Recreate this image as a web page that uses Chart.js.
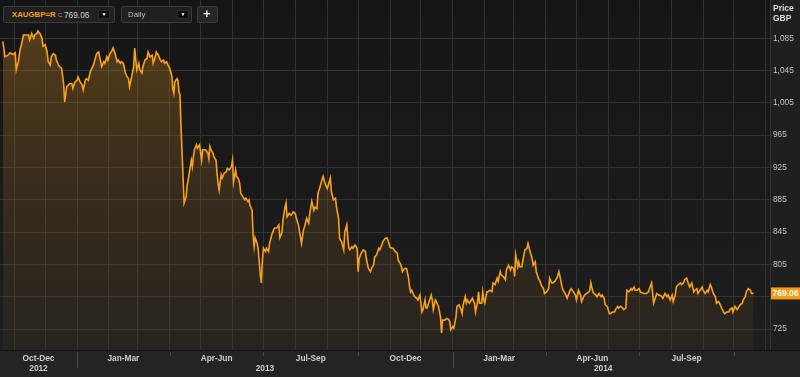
<!DOCTYPE html>
<html><head><meta charset="utf-8">
<script src="https://cdn.jsdelivr.net/npm/chart.js@4.4.1/dist/chart.umd.min.js"></script>
<style>
html,body{margin:0;padding:0;background:#1f1f1f;}
#wrap{position:relative;width:800px;height:377px;overflow:hidden;font-family:"Liberation Sans",Arial,sans-serif;}
#c{position:absolute;left:0;top:0;}
.box{position:absolute;top:6px;height:17px;background:#202020;border:1px solid #3a3a3a;border-radius:2px;box-sizing:border-box;}
.btn{position:absolute;top:3px;width:12px;height:9px;background:#0e0e0e;border:1px solid #2a2a2a;box-sizing:border-box;color:#fff;font-size:5px;line-height:7px;text-align:center;}
.sym{position:absolute;top:3px;font-size:8px;line-height:10px;white-space:nowrap;}
#price{position:absolute;left:773px;top:3px;color:#ddd;font-weight:bold;font-size:8.5px;line-height:10px;}
</style></head>
<body>
<div id="wrap">
<canvas id="c" width="800" height="377"></canvas>
<div class="box" style="left:3px;width:112px;">
  <span class="sym" style="left:8px;color:#f5a01c;font-weight:bold;font-size:7.8px;">XAUGBP=R</span>
  <span class="sym" style="left:54px;color:#999;font-size:6px;">C</span>
  <span class="sym" style="left:60px;color:#cfcfcf;font-size:8.3px;">769.06</span>
  <div class="btn" style="left:94px;">&#9660;</div>
</div>
<div class="box" style="left:121px;width:71px;">
  <span class="sym" style="left:6px;color:#bbb;font-size:7.8px;">Daily</span>
  <div class="btn" style="left:55px;">&#9660;</div>
</div>
<div class="box" style="left:197px;width:21px;background:#262626;">
  <span class="sym" style="left:5px;top:0px;color:#eee;font-weight:bold;font-size:13px;line-height:14px;">+</span>
</div>
<div id="price">Price<br>GBP</div>
</div>
<script>
// ---- data (days since 2013-01-01, gold price in GBP) ----
const days = [-72,-70,-67,-65,-62,-60,-59,-57,-55,-54,-52,-49,-47,-46,-44,-42,-41,-39,-38,-36,-34,-33,-31,-29,-28,-26,-25,-23,-21,-20,-18,-17,-15,-13,-12,-10,-7,-5,-4,-2,0,1,3,5,6,8,9,11,13,16,19,21,22,24,26,27,29,30,32,34,35,37,39,40,42,43,45,47,48,50,51,53,55,56,58,60,61,63,64,66,68,69,71,73,74,76,77,79,81,82,84,85,87,89,90,92,93,94,95,97,98,99,100,101,104,106,107,109,111,112,113,114,116,117,119,120,121,122,124,125,127,128,129,130,132,133,135,136,137,138,140,141,143,145,146,148,150,151,152,154,155,157,158,159,161,163,164,166,167,168,170,171,172,173,175,176,178,179,180,181,183,184,186,187,189,191,192,194,196,197,199,200,202,203,204,206,208,210,212,213,215,217,218,220,221,223,225,226,228,230,231,233,234,236,238,239,241,243,244,246,247,249,251,252,254,255,257,259,260,262,263,264,265,267,268,270,272,273,274,276,278,280,281,283,285,286,288,289,291,293,294,296,297,299,301,302,304,306,307,309,311,312,314,315,316,318,320,321,322,323,324,325,327,328,330,331,333,335,336,338,339,340,342,344,345,346,348,349,351,353,354,355,357,359,361,362,363,365,366,368,369,371,373,374,375,377,378,379,381,382,384,386,387,389,390,391,393,394,395,396,398,399,401,403,404,406,408,409,411,412,414,416,417,419,421,422,424,425,426,428,429,430,432,433,435,437,438,440,442,443,445,446,448,450,451,453,454,456,458,459,461,462,464,466,467,468,470,471,472,474,476,477,479,480,482,484,485,487,489,490,492,493,495,497,498,499,501,502,504,505,507,509,510,512,513,515,517,518,520,522,523,525,526,528,530,531,533,534,536,538,539,541,542,544,546,547,550,553,555,556,558,560,561,563,565,566,568,569,571,573,574,576,578,579,581,582,584,586,587,589,590,592,594,595,597,599,600,602,603,605,607,608,610,612,613,615,616,618,620,621,623,624,626,628,629,631,633,634,636,637,639,641,642,644,646,647,649,650,652,654,655,657];
const prices = [1081,1062,1064,1067,1065,1067,1046,1056,1073,1077,1089,1089,1089,1083,1091,1085,1089,1091,1094,1091,1085,1075,1077,1068,1056,1052,1062,1066,1064,1058,1052,1050,1048,1029,1006,1025,1029,1029,1023,1031,1033,1037,1031,1027,1021,1033,1035,1033,1044,1052,1066,1068,1062,1050,1056,1054,1062,1058,1066,1070,1073,1066,1056,1058,1054,1056,1054,1042,1039,1035,1025,1037,1050,1073,1046,1054,1046,1042,1050,1058,1060,1068,1062,1064,1054,1062,1068,1064,1058,1056,1058,1054,1056,1050,1048,1039,1023,1017,1031,1035,1033,1019,1015,975,881,889,903,918,934,926,938,947,953,949,953,944,934,947,947,947,943,936,951,947,943,938,934,918,905,897,916,912,918,920,924,922,926,934,907,922,914,910,905,893,889,885,887,883,885,878,872,841,827,838,831,823,792,782,810,825,821,825,821,831,841,848,850,850,854,838,844,860,876,881,864,868,866,870,868,862,854,839,831,848,852,862,856,868,883,872,876,874,893,901,910,914,905,899,903,912,895,885,887,876,862,837,833,823,845,854,837,825,823,827,825,829,825,796,812,819,823,821,812,800,796,800,804,814,817,825,823,829,833,837,838,835,826,825,825,821,819,810,806,802,796,800,800,794,788,777,771,773,767,765,763,761,767,746,749,761,751,751,759,767,761,749,761,759,753,740,720,736,736,738,737,734,724,728,726,740,753,755,749,744,755,765,757,761,757,759,763,757,746,759,771,757,757,771,761,757,771,771,773,771,782,780,788,784,796,792,790,786,798,804,798,802,800,790,817,802,808,802,802,810,823,825,831,821,812,804,808,796,788,783,779,775,769,771,775,788,782,782,784,788,792,796,784,777,773,769,763,767,773,775,771,767,761,773,767,759,765,767,769,771,773,782,771,769,767,765,769,765,767,763,755,753,744,744,746,746,749,753,751,753,751,749,751,773,771,775,773,777,773,773,775,771,769,769,771,775,782,757,761,769,767,767,765,763,769,765,767,761,767,759,767,777,780,782,780,782,786,788,780,777,782,771,773,775,769,773,777,773,769,773,771,780,777,769,765,757,759,757,751,746,744,746,746,749,751,746,753,749,751,755,757,761,765,771,775,773,769,769.06];
const lastPrice = 769.06;

// y-axis ticks
const yTicks = [725,765,805,845,885,925,965,1005,1045,1085];
const yTickLabels = ['725','','805','845','885','925','965','1,005','1,045','1,085'];

// x-axis labels: quarter names and years, placed at day offsets (mid-periods)
const quarterLabels = ['Oct-Dec','Jan-Mar','Apr-Jun','Jul-Sep','Oct-Dec','Jan-Mar','Apr-Jun','Jul-Sep'];
const quarterCenters = [-37.4,45,135.5,227,319,410,500.5,592];
const yearLabels = ['2012','2013','2014'];
const yearCenters = [-37.4,182.5,511];

// axis ranges
const X_MIN = -74.8, X_MAX = 673.0, Y_MIN = 699, Y_MAX = 1132.4;

const DAY = 86400000, ORIGIN = Date.UTC(2013,0,1);
const dOff = (y,m) => (Date.UTC(y,m,1) - ORIGIN) / DAY;
const monthStarts = []; for (let m = 10; m <= 34; m++) monthStarts.push(dOff(2012, m));
const quarterStarts = []; for (let m = 12; m <= 33; m += 3) quarterStarts.push(dOff(2012, m));
const yearStarts = [dOff(2013,0), dOff(2014,0)];

// combined x label ticks
const xLabelTicks = [];
quarterLabels.forEach((q,i) => {
  const yi = yearCenters.indexOf(quarterCenters[i]);
  xLabelTicks.push({value: quarterCenters[i], label: [q, yi >= 0 ? yearLabels[yi] : '']});
});
yearLabels.forEach((y,i) => {
  if (quarterCenters.indexOf(yearCenters[i]) < 0) xLabelTicks.push({value: yearCenters[i], label: ['', y]});
});
xLabelTicks.sort((a,b) => a.value - b.value);

const FONT = '"Liberation Sans", Arial, sans-serif';

const bgPlugin = {
  id: 'bg',
  beforeDraw(chart) {
    const {ctx, chartArea: ca, width, height} = chart;
    ctx.save();
    ctx.fillStyle = '#1f1f1f';
    ctx.fillRect(0, 0, width, height);
    const g = ctx.createLinearGradient(0, ca.top, 0, ca.bottom);
    g.addColorStop(0, '#151515');
    g.addColorStop(1, '#1e1e1e');
    ctx.fillStyle = g;
    ctx.fillRect(ca.left, ca.top, ca.right - ca.left, ca.bottom - ca.top);
    ctx.fillStyle = '#242424';
    ctx.fillRect(0, ca.bottom, width, height - ca.bottom);
    ctx.restore();
  },
  afterDraw(chart) {
    const {ctx, chartArea: ca, scales} = chart;
    const xs = scales.x, ys = scales.y;
    ctx.save();
    ctx.strokeStyle = '#111';
    ctx.lineWidth = 1;
    ctx.beginPath(); ctx.moveTo(0, ca.bottom + 0.5); ctx.lineTo(chart.width, ca.bottom + 0.5); ctx.stroke();
    ctx.strokeStyle = '#4a4a4a';
    quarterStarts.forEach(d => {
      const px = Math.round(xs.getPixelForValue(d)) + 0.5;
      const isYear = yearStarts.includes(d);
      ctx.beginPath(); ctx.moveTo(px, ca.bottom + 2); ctx.lineTo(px, ca.bottom + (isYear ? 18 : 6)); ctx.stroke();
    });
    // last price tag
    const py = ys.getPixelForValue(lastPrice);
    ctx.fillStyle = '#f39c16';
    ctx.fillRect(ca.right + 1, py - 6, 29, 12);
    ctx.fillStyle = '#fff';
    ctx.font = 'bold 8.5px ' + FONT;
    ctx.textAlign = 'center';
    ctx.textBaseline = 'middle';
    ctx.fillText(lastPrice.toFixed(2), ca.right + 15.5, py + 0.5);
    ctx.restore();
  }
};

new Chart(document.getElementById('c'), {
  type: 'line',
  data: {
    datasets: [{
      data: days.map((d, i) => ({x: d, y: prices[i]})),
      borderColor: '#f9a11b',
      borderWidth: 1.6,
      pointRadius: 0,
      tension: 0,
      fill: 'start',
      backgroundColor: (c) => {
        const ca = c.chart.chartArea;
        if (!ca) return 'rgba(140,95,30,0.3)';
        const g = c.chart.ctx.createLinearGradient(0, ca.top, 0, ca.bottom);
        g.addColorStop(0, 'rgba(175,118,30,0.45)');
        g.addColorStop(0.5, 'rgba(145,98,35,0.27)');
        g.addColorStop(1, 'rgba(110,80,40,0.12)');
        return g;
      }
    }]
  },
  options: {
    responsive: false,
    animation: false,
    layout: {padding: 0},
    plugins: {legend: {display: false}, tooltip: {enabled: false}},
    scales: {
      x: {
        type: 'linear', position: 'bottom', min: X_MIN, max: X_MAX, weight: 0,
        afterBuildTicks: s => { s.ticks = monthStarts.map(v => ({value: v})); },
        afterFit: s => { s.height = 0; s.paddingLeft = 0; s.paddingRight = 0; },
        ticks: {display: false},
        grid: {color: '#323232', lineWidth: 1, drawTicks: false},
        border: {display: false}
      },
      xq: {
        type: 'linear', position: 'bottom', min: X_MIN, max: X_MAX, weight: 1,
        afterBuildTicks: s => { s.ticks = xLabelTicks.map(t => ({value: t.value})); },
        afterFit: s => { s.height = 27; s.paddingLeft = 0; s.paddingRight = 0; },
        ticks: {
          autoSkip: false, maxRotation: 0, minRotation: 0, padding: -4,
          color: '#d0d0d0',
          font: {family: FONT, size: 8.3, weight: 'bold', lineHeight: 1.15},
          callback: (v, i) => xLabelTicks[i].label
        },
        grid: {display: false},
        border: {display: false}
      },
      y: {
        type: 'linear', position: 'right', min: Y_MIN, max: Y_MAX,
        afterBuildTicks: s => { s.ticks = yTicks.map(v => ({value: v})); },
        afterFit: s => { s.width = 30; s.paddingTop = 0; s.paddingBottom = 0; },
        ticks: {
          padding: 0, color: '#c4c4c4',
          font: {family: FONT, size: 8.3},
          callback: (v, i) => yTickLabels[i]
        },
        grid: {color: '#323232', lineWidth: 1, tickLength: 3},
        border: {display: true, color: '#333'}
      }
    }
  },
  plugins: [bgPlugin]
});
</script>
</body></html>
